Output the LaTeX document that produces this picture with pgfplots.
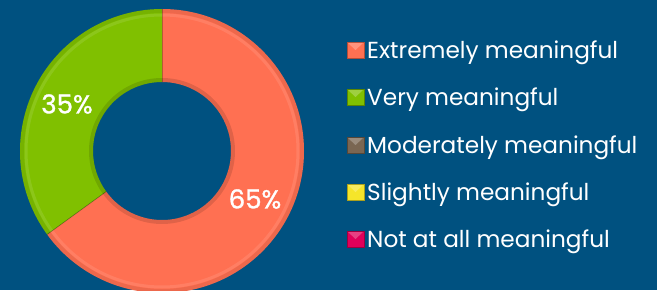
\documentclass[border=0pt]{standalone}
\usepackage{pgfplots}
\pgfplotsset{compat=1.18}
\usepackage{pgfplotstable}
\usepackage{fontspec}
\setmainfont{Poppins}
\newfontfamily\pmed[FakeBold=1.2]{Poppins}
\definecolor{bg}{RGB}{0,81,128}
\definecolor{cExt}{RGB}{255,112,82}
\definecolor{cVery}{RGB}{128,192,0}
\definecolor{cMod}{RGB}{122,102,82}
\definecolor{cSl}{RGB}{245,229,42}
\definecolor{cNot}{RGB}{224,0,90}
\pgfplotstableread{
label value
Extremely 65
Very 35
Moderately 0
Slightly 0
Notatall 0
}\data
\newcommand\legitem[3]{%
  \fill[#1,draw=#1!70!black,line width=0.8pt] (axis cs:347,{290-#3-8}) rectangle (axis cs:364,{290-#3+8});
  \fill[white,opacity=0.25] (axis cs:348,{290-#3+7}) -- (axis cs:363,{290-#3+7}) -- (axis cs:355.5,{290-#3}) -- cycle;
  \node[white,anchor=base west,inner sep=0pt,font=\fontsize{23.2}{23}\selectfont] at (axis cs:367,{290-#3-8}) {#2};}
\def\cx{162}\def\cy{139}\def\ro{142}\def\ri{69}
\begin{document}
\begin{tikzpicture}
\useasboundingbox (0,0) rectangle (657pt,290pt);
\clip (0,0) rectangle (657pt,290pt);
\fill[bg] (0,0) rectangle (657pt,290pt);
\pgfplotstablegetelem{0}{value}\of\data \let\vA\pgfplotsretval
\pgfplotstablegetelem{1}{value}\of\data \let\vB\pgfplotsretval
\pgfmathsetmacro{\aA}{90}
\pgfmathsetmacro{\aB}{90-3.6*\vA}
\pgfmathsetmacro{\aC}{\aB-3.6*\vB}
\begin{axis}[at={(0,0)},anchor=south west,x=1pt,y=1pt,scale only axis,
  xmin=0,xmax=657,ymin=0,ymax=290,hide axis,clip=false]
% orange slice
\fill[cExt] (axis cs:{\cx+\ro*cos(\aA)},{\cy+\ro*sin(\aA)}) arc[start angle=\aA,end angle=\aB,radius=\ro pt]
  -- (axis cs:{\cx+\ri*cos(\aB)},{\cy+\ri*sin(\aB)}) arc[start angle=\aB,end angle=\aA,radius=\ri pt] -- cycle;
% green slice
\fill[cVery] (axis cs:{\cx+\ro*cos(\aB)},{\cy+\ro*sin(\aB)}) arc[start angle=\aB,end angle=\aC,radius=\ro pt]
  -- (axis cs:{\cx+\ri*cos(\aC)},{\cy+\ri*sin(\aC)}) arc[start angle=\aC,end angle=\aB,radius=\ri pt] -- cycle;
% bevel shading
\draw[black,opacity=0.07,line width=4pt] (axis cs:\cx,\cy) circle[radius=\ro pt-2pt];
\draw[white,opacity=0.10,line width=3pt] (axis cs:\cx,\cy) circle[radius=\ro pt-6pt];
\draw[black,opacity=0.12,line width=4pt] (axis cs:\cx,\cy) circle[radius=\ri pt+2pt];
\draw[black,opacity=0.25,line width=0.8pt] (axis cs:{\cx+\ri*cos(\aB)},{\cy+\ri*sin(\aB)}) -- (axis cs:{\cx+\ro*cos(\aB)},{\cy+\ro*sin(\aB)});
\draw[black,opacity=0.25,line width=0.8pt] (axis cs:{\cx+\ri*cos(\aA)},{\cy+\ri*sin(\aA)}) -- (axis cs:{\cx+\ro*cos(\aA)},{\cy+\ro*sin(\aA)});
% labels
\node[white,font=\pmed\fontsize{26}{26}\selectfont] at (axis cs:67,186) {35\%};
\node[white,font=\pmed\fontsize{26}{26}\selectfont] at (axis cs:255,91) {65\%};
% legend
\legitem{cExt}{Extremely meaningful}{50}
\legitem{cVery}{Very meaningful}{97}
\legitem{cMod}{Moderately meaningful}{145}
\legitem{cSl}{Slightly meaningful}{192}
\legitem{cNot}{Not at all meaningful}{239}
\end{axis}
\end{tikzpicture}
\end{document}
